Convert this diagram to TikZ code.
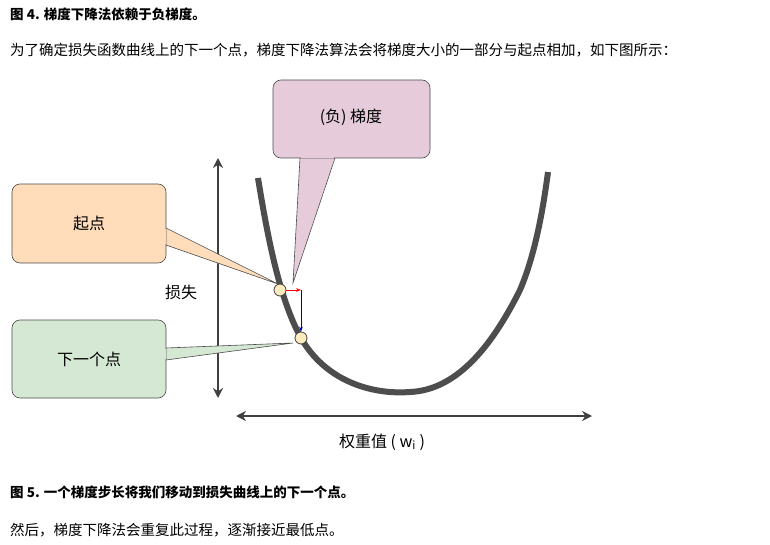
\documentclass[tikz,border=0pt]{standalone}
\usepackage{fontspec}
\setmainfont{Noto Sans CJK SC}
\usetikzlibrary{arrows.meta}
\definecolor{curve}{HTML}{4D4D4D}
\definecolor{pinkc}{RGB}{230,204,218}
\definecolor{peachc}{RGB}{255,221,187}
\definecolor{greenc}{RGB}{213,232,212}
\definecolor{dotc}{RGB}{255,236,190}
\tikzset{
  callout/.style={draw=black!70, rounded corners=8pt, line width=0.6pt},
  ptr/.style={draw=black!70, line width=0.6pt},
  axis/.style={draw=black!75, line width=2.5pt, {Stealth[length=10pt,width=10pt]}-{Stealth[length=10pt,width=10pt]}},
  dot/.style={circle, draw=black!75, fill=dotc, minimum size=12pt, inner sep=0pt, line width=0.8pt},
  txt/.style={font=\fontsize{14.5}{16}\selectfont, anchor=west, inner sep=0pt},
  lbl/.style={font=\fontsize{16}{18}\selectfont}
}
\begin{document}
\begin{tikzpicture}[x=1pt,y=-1pt]
\useasboundingbox (0,0) rectangle (770,545);
\node[txt, font=\fontsize{13.5}{16}\selectfont\bfseries] (t1) at (10,14) {图 4. 梯度下降法依赖于负梯度。};
\node[txt] (p1) at (10,50) {为了确定损失函数曲线上的下一个点，梯度下降法算法会将梯度大小的一部分与起点相加，如下图所示：};
\node[txt, font=\fontsize{13.5}{16}\selectfont\bfseries] (t2) at (10,492) {图 5. 一个梯度步长将我们移动到损失曲线上的下一个点。};
\node[txt] (p2) at (10,530) {然后，梯度下降法会重复此过程，逐渐接近最低点。};
% axes
\coordinate (vt) at (218,158); \coordinate (vb) at (218,398);
\draw[axis] (vt) -- (vb);
\coordinate (hl) at (236,416); \coordinate (hr) at (592,416);
\draw[axis] (hl) -- (hr);
\node[lbl] (yl) at (181,292) {损失};
\node[lbl] (xl) at (382,442) {权重值 ( $\mathit{w_i}$ )};
% curve
\draw[curve, line width=6pt] (258,178) .. controls (268,240) and (280,300) .. (301,338)
  .. controls (325,380) and (370,395) .. (410,392)
  .. controls (455,390) and (490,350) .. (520,290)
  .. controls (535,255) and (543,210) .. (548,172);
% callouts
\fill[pinkc] (300,157) -- (293,283) -- (335,157) -- cycle;
\draw[ptr] (300,158) -- (293,283) -- (335,158);
\draw[callout, fill=pinkc] (273,80) rectangle (430,158);
\fill[pinkc] (301,150) rectangle (334,157.6);
\node[lbl] (g) at (351,117) {(负) 梯度};
\fill[peachc] (165,228) -- (278,284) -- (165,245) -- cycle;
\draw[ptr] (166,228) -- (278,284) -- (166,245);
\draw[callout, fill=peachc] (12,184) rectangle (166,263);
\fill[peachc] (160,229) rectangle (165.6,244);
\node[lbl] (s) at (89,223) {起点};
\fill[greenc] (165,348) -- (293,343) -- (165,360) -- cycle;
\draw[ptr] (166,348) -- (293,343) -- (166,360);
\draw[callout, fill=greenc] (12,320) rectangle (166,398);
\fill[greenc] (160,349) rectangle (165.6,359);
\node[lbl] (n) at (89,359) {下一个点};
% step arrows
\node[dot] (d1) at (280,290) {};
\node[dot] (d2) at (301,338) {};
\coordinate (c) at (301,290);
\draw[red, line width=0.8pt, -{Stealth[length=5pt]}] (d1) -- (c);
\draw[blue!70!black, line width=0.8pt, -{Stealth[length=5pt]}] (c) -- (d2);
\end{tikzpicture}
\end{document}
